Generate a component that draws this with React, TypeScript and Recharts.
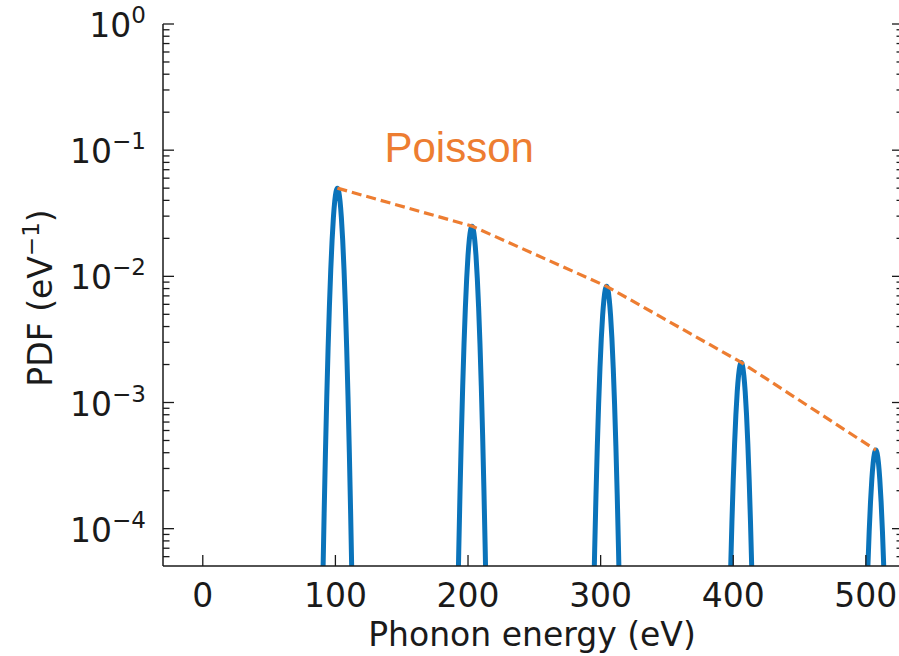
import React from "react";
import { LineChart, Line, XAxis, YAxis, ReferenceDot } from "recharts";

// peak centres (eV) and the PDF read at each apex
const peakCenters = [101.5, 203, 304.5, 406, 507.5];
const poissonPdf = [0.05, 0.025, 0.00833, 0.00208, 0.00042];

const offsets = [-12, -11, -10, -9, -8, -7, -6, -5, -4, -3, -2, -1, 0, 1, 2, 3, 4, 5, 6, 7, 8, 9, 10, 11, 12];
const peak1 = [9.6e-6, 3.76e-5, 1.309e-4, 4.05e-4, 1.113e-3, 2.715e-3, 5.88e-3, 1.131e-2, 1.932e-2, 2.928e-2, 3.942e-2, 4.712e-2, 0.05, 4.712e-2, 3.942e-2, 2.928e-2, 1.932e-2, 1.131e-2, 5.88e-3, 2.715e-3, 1.113e-3, 4.05e-4, 1.309e-4, 3.76e-5, 9.6e-6];
const peak2 = [4.8e-6, 1.88e-5, 6.54e-5, 2.025e-4, 5.56e-4, 1.357e-3, 2.94e-3, 5.655e-3, 9.658e-3, 1.464e-2, 1.971e-2, 2.356e-2, 0.025, 2.356e-2, 1.971e-2, 1.464e-2, 9.658e-3, 5.655e-3, 2.94e-3, 1.357e-3, 5.56e-4, 2.025e-4, 6.54e-5, 1.88e-5, 4.8e-6];
const peak3 = [1.6e-6, 6.3e-6, 2.18e-5, 6.75e-5, 1.853e-4, 4.52e-4, 9.8e-4, 1.884e-3, 3.218e-3, 4.878e-3, 6.567e-3, 7.85e-3, 8.33e-3, 7.85e-3, 6.567e-3, 4.878e-3, 3.218e-3, 1.884e-3, 9.8e-4, 4.52e-4, 1.853e-4, 6.75e-5, 2.18e-5, 6.3e-6, 1.6e-6];
const peak4 = [4e-7, 1.6e-6, 5.4e-6, 1.68e-5, 4.63e-5, 1.129e-4, 2.446e-4, 4.7e-4, 8.04e-4, 1.218e-3, 1.64e-3, 1.96e-3, 2.08e-3, 1.96e-3, 1.64e-3, 1.218e-3, 8.04e-4, 4.7e-4, 2.446e-4, 1.129e-4, 4.63e-5, 1.68e-5, 5.4e-6, 1.6e-6, 4e-7];
const peak5 = [1e-7, 3e-7, 1.1e-6, 3.4e-6, 9.3e-6, 2.28e-5, 4.94e-5, 9.5e-5, 1.622e-4, 2.46e-4, 3.31e-4, 3.96e-4, 4.2e-4, 3.96e-4, 3.31e-4, 2.46e-4, 1.622e-4, 9.5e-5, 4.94e-5, 2.28e-5, 9.3e-6, 3.4e-6, 1.1e-6, 3e-7, 1e-7];
const peaks = [peak1, peak2, peak3, peak4, peak5];

const xTicks = [0, 100, 200, 300, 400, 500];
const yMajor = [1e-4, 1e-3, 1e-2, 1e-1, 1];
const yMinor = [
  6e-5, 7e-5, 8e-5, 9e-5,
  2e-4, 3e-4, 4e-4, 5e-4, 6e-4, 7e-4, 8e-4, 9e-4,
  2e-3, 3e-3, 4e-3, 5e-3, 6e-3, 7e-3, 8e-3, 9e-3,
  2e-2, 3e-2, 4e-2, 5e-2, 6e-2, 7e-2, 8e-2, 9e-2,
  2e-1, 3e-1, 4e-1, 5e-1, 6e-1, 7e-1, 8e-1, 9e-1,
];
const yTicks = [...yMajor, ...yMinor].sort((a, b) => a - b);

const X_DOMAIN: [number, number] = [-30, 528];
const Y_DOMAIN: [number, number] = [5.06e-5, 1];

const FONT = "'DejaVu Sans', sans-serif";
const INK = "#1a1a1a";
const BLUE = "#0a73ba";
const ORANGE = "#ed7d31";

// blue curve: one segment per peak, broken by nulls in between
const pdfData: { e: number; pdf: number | null }[] = [];
peaks.forEach((vals, i) => {
  if (i > 0) pdfData.push({ e: (peakCenters[i - 1] + peakCenters[i]) / 2, pdf: null });
  offsets.forEach((d, j) => pdfData.push({ e: peakCenters[i] + d, pdf: vals[j] }));
});
const poissonData = peakCenters.map((e, i) => ({ e, pdf: poissonPdf[i] }));

const isMajor = (v: number) => yMajor.some((m) => Math.abs(m - v) / m < 1e-6);
const expOf = (v: number) => String(Math.round(Math.log10(v))).replace("-", "\u2212");

const LeftTick = (p: any) => {
  const v = p.payload.value;
  const major = isMajor(v);
  return (
    <g>
      <line x1={p.x} x2={p.x + (major ? 11 : 6.5)} y1={p.y} y2={p.y} stroke={INK} strokeWidth={1.3} />
      {major && (
        <text x={p.x - 17} y={p.y + 13} textAnchor="end" fontFamily={FONT} fontSize={33} fill={INK}>
          <tspan>10</tspan>
          <tspan dy={-14} fontSize={23}>{expOf(v)}</tspan>
        </text>
      )}
    </g>
  );
};

const RightTick = (p: any) => {
  const major = isMajor(p.payload.value);
  return <line x1={p.x} x2={p.x - (major ? 11 : 6.5)} y1={p.y} y2={p.y} stroke={INK} strokeWidth={1.3} />;
};

const BottomTick = (p: any) => (
  <g>
    <line x1={p.x} x2={p.x} y1={p.y} y2={p.y - 11} stroke={INK} strokeWidth={1.3} />
    <text x={p.x} y={p.y + 41} textAnchor="middle" fontFamily={FONT} fontSize={33} fill={INK}>
      {p.payload.value}
    </text>
  </g>
);

const TopTick = (p: any) => (
  <line x1={p.x} x2={p.x} y1={p.y} y2={p.y + 11} stroke={INK} strokeWidth={1.3} />
);

const XLabel = () => (
  <text x={532} y={646} textAnchor="middle" fontFamily={FONT} fontSize={33} fill={INK}>
    Phonon energy (eV)
  </text>
);

const YLabel = () => (
  <text x={0} y={0} transform="translate(52 298) rotate(-90)" textAnchor="middle" fontFamily={FONT} fontSize={33} fill={INK}>
    <tspan>PDF (eV</tspan>
    <tspan dy={-13} fontSize={23}>{"\u22121"}</tspan>
    <tspan dy={13}>)</tspan>
  </text>
);

const axisLine = { stroke: INK, strokeWidth: 1.5 };

export default function App() {
  return (
    <div style={{ position: "absolute", left: 0, top: 0, width: 899, height: 656, overflow: "hidden", background: "#fff" }}>
      <LineChart width={904} height={656} margin={{ top: 24, right: 0, bottom: 0, left: 0 }}>
        <XAxis
          xAxisId="bottom"
          type="number"
          dataKey="e"
          domain={X_DOMAIN}
          ticks={xTicks}
          interval={0}
          allowDataOverflow
          height={90}
          tickSize={0}
          tickMargin={0}
          tickLine={false}
          axisLine={axisLine}
          tick={<BottomTick />}
          label={<XLabel />}
        />
        <XAxis
          xAxisId="top"
          orientation="top"
          type="number"
          dataKey="e"
          domain={X_DOMAIN}
          ticks={xTicks}
          interval={0}
          allowDataOverflow
          height={0}
          tickSize={0}
          tickMargin={0}
          tickLine={false}
          axisLine={axisLine}
          tick={<TopTick />}
        />
        <YAxis
          yAxisId="left"
          scale="log"
          type="number"
          domain={Y_DOMAIN}
          ticks={yTicks}
          interval={0}
          allowDataOverflow
          width={163}
          tickSize={0}
          tickMargin={0}
          tickLine={false}
          axisLine={axisLine}
          tick={<LeftTick />}
          label={<YLabel />}
        />
        <YAxis
          yAxisId="right"
          orientation="right"
          scale="log"
          type="number"
          domain={Y_DOMAIN}
          ticks={yTicks}
          interval={0}
          allowDataOverflow
          width={1}
          tickSize={0}
          tickMargin={0}
          tickLine={false}
          axisLine={axisLine}
          tick={<RightTick />}
        />
        <Line
          xAxisId="bottom"
          yAxisId="left"
          data={pdfData}
          dataKey="pdf"
          type="monotone"
          stroke={BLUE}
          strokeWidth={5}
          dot={false}
          activeDot={false}
          connectNulls={false}
          isAnimationActive={false}
        />
        <Line
          xAxisId="bottom"
          yAxisId="left"
          data={poissonData}
          dataKey="pdf"
          type="linear"
          stroke={ORANGE}
          strokeWidth={3.2}
          strokeDasharray="10 5"
          dot={false}
          activeDot={false}
          isAnimationActive={false}
        />
        <ReferenceDot
          xAxisId="bottom"
          yAxisId="left"
          x={137}
          y={0.0813}
          r={0}
          shape={(p: any) => (
            <text x={p.cx} y={p.cy} fontFamily="'Liberation Sans', Arial, sans-serif" fontSize={42} fill={ORANGE}>
              Poisson
            </text>
          )}
        />
      </LineChart>
    </div>
  );
}
